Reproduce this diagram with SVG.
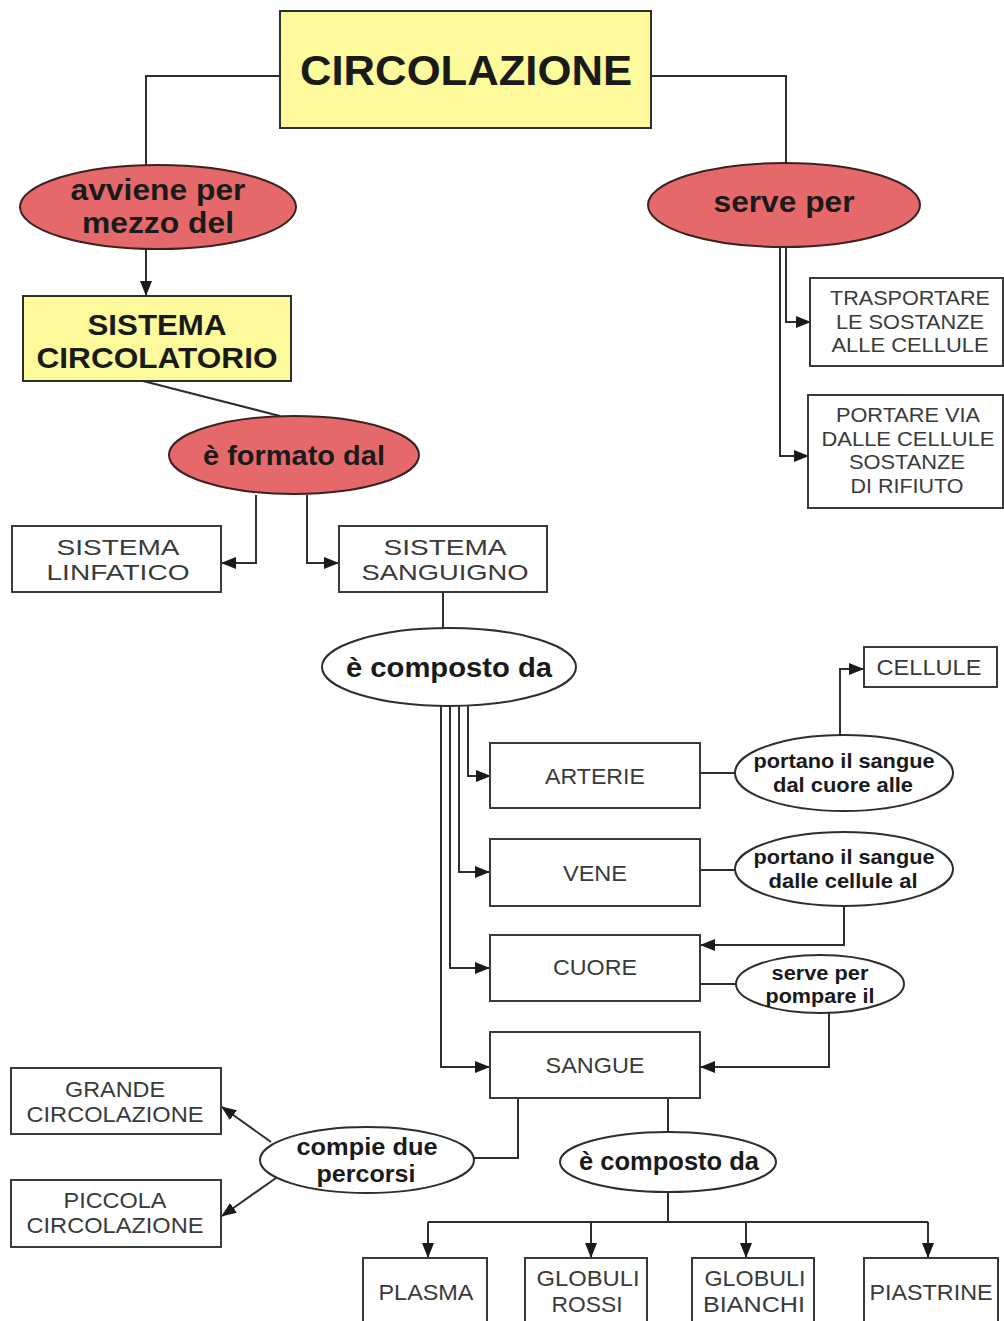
<svg xmlns="http://www.w3.org/2000/svg" width="1004" height="1321" viewBox="0 0 1004 1321">
<style>
.bg{fill:#ffffff}
.yel{fill:#fdfa9c;stroke:#2e2e2e;stroke-width:2}
.red{fill:#e5696b;stroke:#3a2222;stroke-width:2}
.wel{fill:#ffffff;stroke:#2e2e2e;stroke-width:2}
.box{fill:#ffffff;stroke:#3a3a3a;stroke-width:2}
.c{fill:none;stroke:#2e2e2e;stroke-width:2}
.ca{fill:none;stroke:#2e2e2e;stroke-width:2;marker-end:url(#arr)}
text{font-family:"Liberation Sans",Arial,sans-serif;text-anchor:middle}
.b{font-weight:bold;fill:#1a1a1a}
.r{fill:#3a3a3a;font-size:22px}
.s{fill:#3a3a3a;font-size:21px}
</style>
<defs>
<marker id="arr" markerUnits="userSpaceOnUse" markerWidth="15" markerHeight="12" refX="14" refY="6" orient="auto">
<path d="M0,0 L15,6 L0,12 Z" fill="#1a1a1a"/>
</marker>
</defs>
<rect class="bg" x="0" y="0" width="1004" height="1321"/>
<g id="connectors">
<path class="c" d="M280,76 H146 V165"/>
<path class="c" d="M651,76 H786 V163"/>
<path class="ca" d="M146,250 V295"/>
<path class="c" d="M143,381 L280,416"/>
<path class="ca" d="M256,495 V563 H222"/>
<path class="ca" d="M307,495 V563 H338"/>
<path class="ca" d="M786,248 V322 H810"/>
<path class="ca" d="M780,248 V456 H808"/>
<path class="c" d="M443,592 V628"/>
<path class="ca" d="M468,706 V776 H490"/>
<path class="ca" d="M459,706 V872 H489"/>
<path class="ca" d="M450,706 V968 H489"/>
<path class="ca" d="M441,706 V1067 H489"/>
<path class="c" d="M700,773 H735"/>
<path class="ca" d="M840,735 V669 H863"/>
<path class="c" d="M700,870 H735"/>
<path class="ca" d="M844,906 V945 H701"/>
<path class="c" d="M700,984 H736"/>
<path class="ca" d="M829,1013 V1067 H701"/>
<path class="c" d="M518,1098 V1158 H474"/>
<path class="ca" d="M271,1142 L222,1107"/>
<path class="ca" d="M276,1178 L222,1216"/>
<path class="c" d="M668,1098 V1132"/>
<path class="c" d="M668,1192 V1222"/>
<path class="c" d="M428,1222 H928"/>
<path class="ca" d="M428,1222 V1257"/>
<path class="ca" d="M591,1222 V1257"/>
<path class="ca" d="M746,1222 V1257"/>
<path class="ca" d="M928,1222 V1257"/>
</g>
<g id="circolazione">
<rect class="yel" x="280" y="11" width="371" height="117"/>
<text class="b" x="466" y="85" font-size="42" textLength="332" lengthAdjust="spacingAndGlyphs">CIRCOLAZIONE</text>
</g>
<g id="avviene">
<ellipse class="red" cx="158" cy="207" rx="138" ry="42"/>
<text class="b" x="158" y="200" font-size="29" textLength="175" lengthAdjust="spacingAndGlyphs">avviene per</text>
<text class="b" x="158" y="233" font-size="29" textLength="152" lengthAdjust="spacingAndGlyphs">mezzo del</text>
</g>
<g id="serveper">
<ellipse class="red" cx="784" cy="205" rx="136" ry="42"/>
<text class="b" x="784" y="212" font-size="29" textLength="141" lengthAdjust="spacingAndGlyphs">serve per</text>
</g>
<g id="sistemacircolatorio">
<rect class="yel" x="23" y="296" width="268" height="85"/>
<text class="b" x="157" y="335" font-size="30" textLength="139" lengthAdjust="spacingAndGlyphs">SISTEMA</text>
<text class="b" x="157" y="368" font-size="30" textLength="241" lengthAdjust="spacingAndGlyphs">CIRCOLATORIO</text>
</g>
<g id="formato">
<ellipse class="red" cx="294" cy="455" rx="125" ry="39"/>
<text class="b" x="294" y="465" font-size="28" textLength="182" lengthAdjust="spacingAndGlyphs">è formato dal</text>
</g>
<g id="trasportare">
<rect class="box" x="810" y="278" width="193" height="88"/>
<text class="s" x="910" y="305" textLength="160" lengthAdjust="spacingAndGlyphs">TRASPORTARE</text>
<text class="s" x="910" y="329" textLength="148" lengthAdjust="spacingAndGlyphs">LE SOSTANZE</text>
<text class="s" x="910" y="352" textLength="157" lengthAdjust="spacingAndGlyphs">ALLE CELLULE</text>
</g>
<g id="portarevia">
<rect class="box" x="808" y="395" width="195" height="113"/>
<text class="s" x="908" y="422" textLength="144" lengthAdjust="spacingAndGlyphs">PORTARE VIA</text>
<text class="s" x="908" y="446" textLength="173" lengthAdjust="spacingAndGlyphs">DALLE CELLULE</text>
<text class="s" x="907" y="469" textLength="116" lengthAdjust="spacingAndGlyphs">SOSTANZE</text>
<text class="s" x="907" y="493" textLength="113" lengthAdjust="spacingAndGlyphs">DI RIFIUTO</text>
</g>
<g id="linfatico">
<rect class="box" x="12" y="526" width="209" height="66"/>
<text class="r" x="118" y="555" textLength="123" lengthAdjust="spacingAndGlyphs">SISTEMA</text>
<text class="r" x="118" y="580" textLength="143" lengthAdjust="spacingAndGlyphs">LINFATICO</text>
</g>
<g id="sanguigno">
<rect class="box" x="339" y="526" width="208" height="66"/>
<text class="r" x="445" y="555" textLength="123" lengthAdjust="spacingAndGlyphs">SISTEMA</text>
<text class="r" x="445" y="580" textLength="167" lengthAdjust="spacingAndGlyphs">SANGUIGNO</text>
</g>
<g id="composto1">
<ellipse class="wel" cx="449" cy="667" rx="127" ry="39"/>
<text class="b" x="449" y="677" font-size="28" textLength="206" lengthAdjust="spacingAndGlyphs">è composto da</text>
</g>
<g id="cellule">
<rect class="box" x="864" y="647" width="133" height="40"/>
<text class="r" x="929" y="675" textLength="105" lengthAdjust="spacingAndGlyphs">CELLULE</text>
</g>
<g id="arterie">
<rect class="box" x="490" y="743" width="210" height="65"/>
<text class="r" x="595" y="784" textLength="100" lengthAdjust="spacingAndGlyphs">ARTERIE</text>
</g>
<g id="portano1">
<ellipse class="wel" cx="844" cy="773" rx="109" ry="38"/>
<text class="b" x="844" y="768" font-size="21" textLength="181" lengthAdjust="spacingAndGlyphs">portano il sangue</text>
<text class="b" x="843" y="792" font-size="21" textLength="140" lengthAdjust="spacingAndGlyphs">dal cuore alle</text>
</g>
<g id="vene">
<rect class="box" x="490" y="839" width="210" height="67"/>
<text class="r" x="595" y="881" textLength="64" lengthAdjust="spacingAndGlyphs">VENE</text>
</g>
<g id="portano2">
<ellipse class="wel" cx="844" cy="869" rx="109" ry="37"/>
<text class="b" x="844" y="864" font-size="21" textLength="181" lengthAdjust="spacingAndGlyphs">portano il sangue</text>
<text class="b" x="843" y="888" font-size="21" textLength="149" lengthAdjust="spacingAndGlyphs">dalle cellule al</text>
</g>
<g id="cuore">
<rect class="box" x="490" y="935" width="210" height="66"/>
<text class="r" x="595" y="975" textLength="84" lengthAdjust="spacingAndGlyphs">CUORE</text>
</g>
<g id="pompare">
<ellipse class="wel" cx="820" cy="984" rx="84" ry="29"/>
<text class="b" x="820" y="980" font-size="20" textLength="97" lengthAdjust="spacingAndGlyphs">serve per</text>
<text class="b" x="820" y="1003" font-size="20" textLength="109" lengthAdjust="spacingAndGlyphs">pompare il</text>
</g>
<g id="sangue">
<rect class="box" x="490" y="1032" width="210" height="66"/>
<text class="r" x="595" y="1073" textLength="99" lengthAdjust="spacingAndGlyphs">SANGUE</text>
</g>
<g id="grande">
<rect class="box" x="11" y="1068" width="210" height="66"/>
<text class="r" x="115" y="1097" textLength="100" lengthAdjust="spacingAndGlyphs">GRANDE</text>
<text class="r" x="115" y="1122" textLength="177" lengthAdjust="spacingAndGlyphs">CIRCOLAZIONE</text>
</g>
<g id="piccola">
<rect class="box" x="11" y="1180" width="210" height="67"/>
<text class="r" x="115" y="1208" textLength="103" lengthAdjust="spacingAndGlyphs">PICCOLA</text>
<text class="r" x="115" y="1233" textLength="177" lengthAdjust="spacingAndGlyphs">CIRCOLAZIONE</text>
</g>
<g id="compie">
<ellipse class="wel" cx="367" cy="1160" rx="107" ry="33"/>
<text class="b" x="367" y="1155" font-size="24" textLength="141" lengthAdjust="spacingAndGlyphs">compie due</text>
<text class="b" x="366" y="1182" font-size="24" textLength="99" lengthAdjust="spacingAndGlyphs">percorsi</text>
</g>
<g id="composto2">
<ellipse class="wel" cx="668" cy="1162" rx="108" ry="30"/>
<text class="b" x="669" y="1170" font-size="25" textLength="180" lengthAdjust="spacingAndGlyphs">è composto da</text>
</g>
<g id="plasma">
<rect class="box" x="363" y="1258" width="124" height="75"/>
<text class="r" x="426" y="1300" textLength="95" lengthAdjust="spacingAndGlyphs">PLASMA</text>
</g>
<g id="globulirossi">
<rect class="box" x="525" y="1258" width="122" height="75"/>
<text class="r" x="588" y="1286" textLength="103" lengthAdjust="spacingAndGlyphs">GLOBULI</text>
<text class="r" x="587" y="1312" textLength="71" lengthAdjust="spacingAndGlyphs">ROSSI</text>
</g>
<g id="globulibianchi">
<rect class="box" x="692" y="1258" width="122" height="75"/>
<text class="r" x="755" y="1286" textLength="101" lengthAdjust="spacingAndGlyphs">GLOBULI</text>
<text class="r" x="754" y="1312" textLength="102" lengthAdjust="spacingAndGlyphs">BIANCHI</text>
</g>
<g id="piastrine">
<rect class="box" x="864" y="1258" width="134" height="75"/>
<text class="r" x="931" y="1300" textLength="123" lengthAdjust="spacingAndGlyphs">PIASTRINE</text>
</g>
</svg>
